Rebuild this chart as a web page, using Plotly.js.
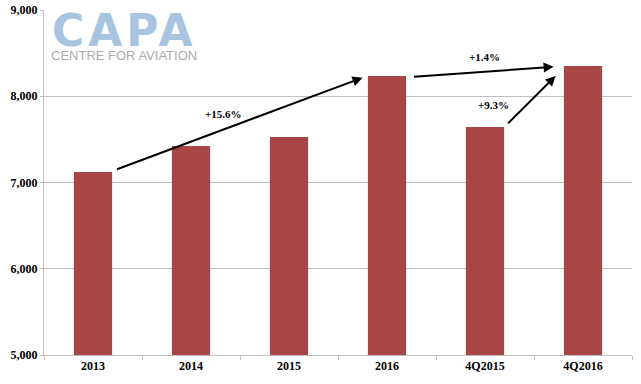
<!DOCTYPE html>
<html><head><meta charset="utf-8">
<script src="https://cdn.plot.ly/plotly-3.0.1.min.js"></script>
<style>html,body{margin:0;padding:0;background:#fff}#chart{width:641px;height:384px}
g.annotation[data-index="6"] text{letter-spacing:4px}</style>
</head><body><div id="chart"></div>
<script>
const categories = ["2013","2014","2015","2016","4Q2015","4Q2016"];
const values = [7122, 7423, 7528, 8235, 7643, 8351];
const yTicks = [5000, 6000, 7000, 8000, 9000];
const yTickLabels = ["5,000","6,000","7,000","8,000","9,000"];
const growthLabels = ["+15.6%", "+1.4%", "+9.3%"];

const serif = "Liberation Serif, Times New Roman, serif";
const trace = {
  type: "bar", x: categories, y: values,
  marker: {color: "#A84646"}, width: 0.39, hoverinfo: "skip"
};
const arrowStyle = {showarrow: true, arrowhead: 2, arrowsize: 1, arrowwidth: 2, arrowcolor: "#000",
  axref: "x", ayref: "y", xref: "x", yref: "y", text: ""};
const labelFont = {family: serif, size: 11, color: "#000", weight: "bold"};
const layout = {
  width: 641, height: 384,
  margin: {l: 44, r: 9, t: 10, b: 29},
  paper_bgcolor: "#fff", plot_bgcolor: "#fff",
  showlegend: false, bargap: 0.6,
  font: {family: serif, size: 12, color: "#000"},
  xaxis: {type: "category", showline: true, linecolor: "#BFBFBF", linewidth: 1,
    ticks: "outside", tickson: "boundaries", ticklen: 4, tickcolor: "#BFBFBF",
    tickfont: {family: serif, size: 12, color: "#000", weight: "bold"}, showgrid: false},
  yaxis: {range: [5000, 9000], tickvals: yTicks, ticktext: yTickLabels,
    showline: true, linecolor: "#BFBFBF", linewidth: 1,
    ticks: "outside", ticklen: 3, tickcolor: "#BFBFBF",
    gridcolor: "#BFBFBF", gridwidth: 1, zeroline: false,
    tickfont: {family: serif, size: 12, color: "#000", weight: "bold"}},
  annotations: [
    Object.assign({}, arrowStyle, {x: 2.75, y: values[3] - 20, ax: 0.23, ay: values[0] + 25}),
    Object.assign({}, arrowStyle, {x: 4.70, y: values[5] - 10, ax: 3.26, ay: values[3] - 10}),
    Object.assign({}, arrowStyle, {x: 4.72, y: values[3], ax: 4.22, ay: values[4] + 25}),
    {x: 1.33, y: 7794, xref: "x", yref: "y", showarrow: false, text: growthLabels[0], font: labelFont},
    {x: 3.99, y: 8455, xref: "x", yref: "y", showarrow: false, text: growthLabels[1], font: labelFont},
    {x: 4.09, y: 7899, xref: "x", yref: "y", showarrow: false, text: growthLabels[2], font: labelFont},
    {x: 0, y: 1, xref: "paper", yref: "paper", xanchor: "left", yanchor: "top", showarrow: false,
     text: "CAPA", font: {family: "DejaVu Sans", size: 44, color: "#A7C4E0", weight: "bold"}},
    {x: 0, y: 1, xref: "paper", yref: "paper", xanchor: "left", yanchor: "top", showarrow: false,
     text: "CENTRE FOR AVIATION", font: {family: "Liberation Sans, Arial", size: 13, color: "#ABABAB"}}
  ]
};
// logo positions in pixel -> paper conversion
const pw = 641 - 44 - 9, ph = 384 - 10 - 29;
layout.annotations[6].x = (58 - 44) / pw; layout.annotations[6].y = 1 - (3 - 10) / ph;
layout.annotations[7].x = (49 - 44) / pw; layout.annotations[7].y = 1 - (46 - 10) / ph;
Plotly.newPlot("chart", [trace], layout, {displayModeBar: false, staticPlot: true});
</script></body></html>
